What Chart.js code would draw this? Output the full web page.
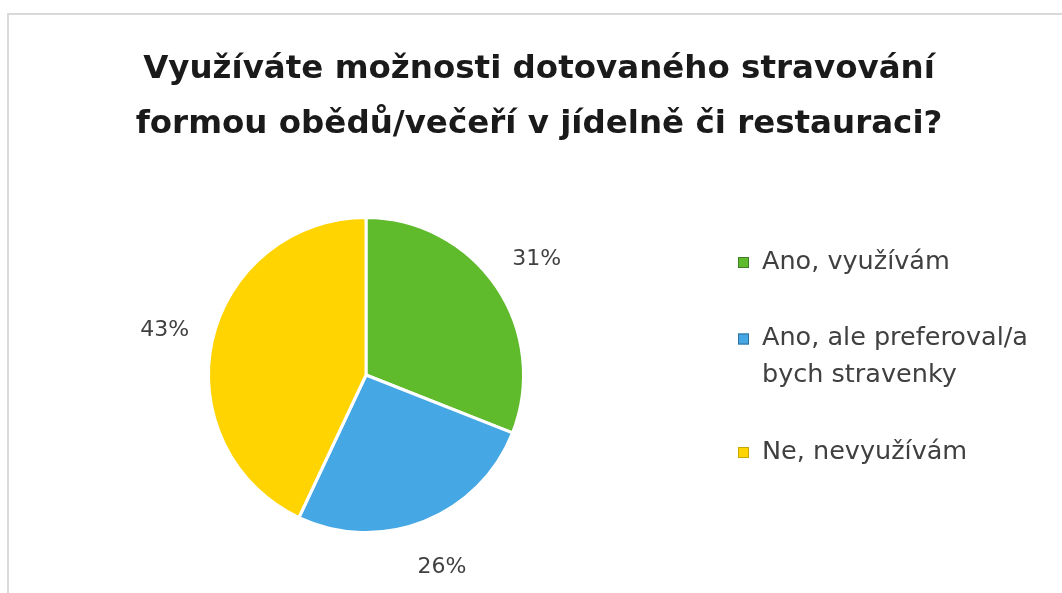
<!DOCTYPE html>
<html>
<head>
<meta charset="utf-8">
<script src="https://cdn.jsdelivr.net/npm/chart.js@4.4.1/dist/chart.umd.min.js"></script>
<style>
  html, body { margin: 0; padding: 0; background: #ffffff; }
  #wrap { width: 1062px; height: 593px; position: relative; }
</style>
</head>
<body>
<div id="wrap"><canvas id="c" width="1062" height="593"></canvas></div>
<script>
const titleLines = ["Využíváte možnosti dotovaného stravování", "formou obědů/večeří v jídelně či restauraci?"];
const categories = ["Ano, využívám", "Ano, ale preferoval/a bych stravenky", "Ne, nevyužívám"];
const values = [31, 26, 43];
const sliceColors = ["#5fbb2c", "#45a7e4", "#ffd400"];
const legendEdge = ["#3f7f2a", "#2f6f9a", "#c9a800"];

const FONT = "'DejaVu Sans', sans-serif";

function wrapText(ctx, text, maxW) {
  const words = text.split(" ");
  const lines = [];
  let cur = "";
  for (const w of words) {
    const test = cur ? cur + " " + w : w;
    if (ctx.measureText(test).width > maxW && cur) { lines.push(cur); cur = w; }
    else cur = test;
  }
  if (cur) lines.push(cur);
  return lines;
}

const decor = {
  id: "decor",
  beforeDraw(chart) {
    const ctx = chart.ctx;
    ctx.save();
    ctx.fillStyle = "#ffffff";
    ctx.fillRect(0, 0, chart.width, chart.height);
    ctx.strokeStyle = "#d9d9d9";
    ctx.lineWidth = 2;
    ctx.beginPath();
    ctx.moveTo(8, chart.height);
    ctx.lineTo(8, 14);
    ctx.lineTo(chart.width, 14);
    ctx.stroke();
    ctx.restore();
  },
  afterDraw(chart) {
    const ctx = chart.ctx;
    ctx.save();
    // title
    ctx.fillStyle = "#1a1a1a";
    ctx.font = "bold 32.5px " + FONT;
    ctx.textAlign = "center";
    ctx.textBaseline = "alphabetic";
    titleLines.forEach((t, i) => ctx.fillText(t, 539, 78 + i * 55));

    // percentage labels
    ctx.textBaseline = "middle";
    const meta = chart.getDatasetMeta(0);
    const total = values.reduce((a, b) => a + b, 0);
    ctx.font = "22px " + FONT;
    ctx.fillStyle = "#404040";
    meta.data.forEach((arc, i) => {
      const p = arc.getProps(["x", "y", "startAngle", "endAngle", "outerRadius"], true);
      const mid = (p.startAngle + p.endAngle) / 2;
      const r = p.outerRadius * 1.31;
      const x = p.x + Math.cos(mid) * r;
      const y = p.y + Math.sin(mid) * r;
      ctx.fillText(Math.round(values[i] / total * 100) + "%", x, y);
    });

    // legend
    ctx.font = "25.5px " + FONT;
    ctx.textAlign = "left";
    const firstY = 262, lastY = 452;
    const step = (lastY - firstY) / (categories.length - 1);
    const lineH = 37;
    categories.forEach((c, i) => {
      const lines = wrapText(ctx, c, 290);
      const cy = firstY + i * step;
      const y0 = cy - (lines.length - 1) * lineH / 2;
      ctx.fillStyle = sliceColors[i];
      ctx.fillRect(738, y0 - 5, 11, 11);
      ctx.strokeStyle = legendEdge[i];
      ctx.lineWidth = 1;
      ctx.strokeRect(738.5, y0 - 4.5, 10, 10);
      ctx.fillStyle = "#404040";
      lines.forEach((l, j) => ctx.fillText(l, 762, y0 + j * lineH));
    });
    ctx.restore();
  }
};

new Chart(document.getElementById("c"), {
  type: "pie",
  data: {
    labels: categories,
    datasets: [{
      data: values,
      backgroundColor: sliceColors,
      borderColor: "#ffffff",
      borderWidth: 3
    }]
  },
  options: {
    responsive: false,
    animation: false,
    layout: { padding: { left: 207, right: 537, top: 216, bottom: 59 } },
    plugins: {
      legend: { display: false },
      tooltip: { enabled: false },
      title: { display: false }
    }
  },
  plugins: [decor]
});
</script>
</body>
</html>
